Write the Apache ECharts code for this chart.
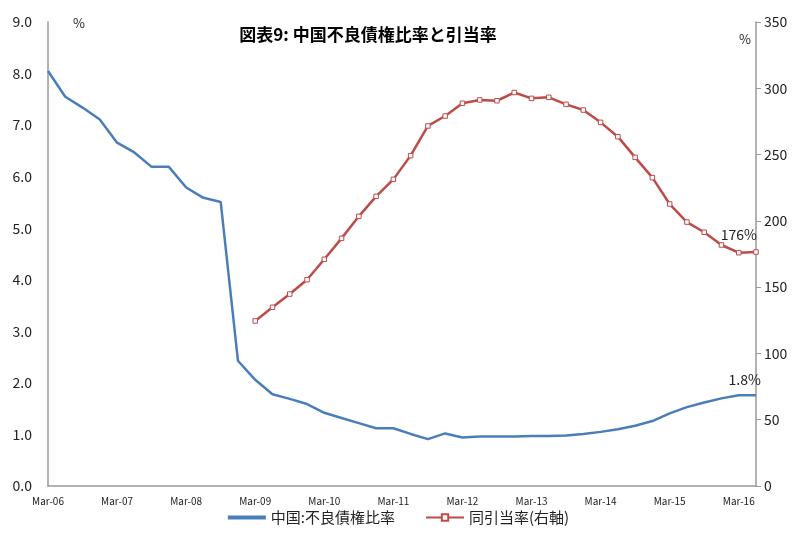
<!DOCTYPE html>
<html>
<head>
<meta charset="utf-8">
<script src="https://cdn.jsdelivr.net/npm/echarts@6/dist/echarts.min.js"></script>
<style>
  html, body { margin: 0; padding: 0; background: #fff; }
  #chart { width: 797px; height: 533px; }
</style>
</head>
<body>
<div id="chart"></div>
<script>
// quarterly periods Mar-06 .. Jun-16
var quarters = [
  'Mar-06', 'Jun-06', 'Sep-06', 'Dec-06',
  'Mar-07', 'Jun-07', 'Sep-07', 'Dec-07',
  'Mar-08', 'Jun-08', 'Sep-08', 'Dec-08',
  'Mar-09', 'Jun-09', 'Sep-09', 'Dec-09',
  'Mar-10', 'Jun-10', 'Sep-10', 'Dec-10',
  'Mar-11', 'Jun-11', 'Sep-11', 'Dec-11',
  'Mar-12', 'Jun-12', 'Sep-12', 'Dec-12',
  'Mar-13', 'Jun-13', 'Sep-13', 'Dec-13',
  'Mar-14', 'Jun-14', 'Sep-14', 'Dec-14',
  'Mar-15', 'Jun-15', 'Sep-15', 'Dec-15',
  'Mar-16', 'Jun-16'
];

// 中国:不良債権比率 (%), left axis
var nplRatio = [
  8.05, 7.55, 7.34, 7.11, 6.66, 6.47, 6.19, 6.19, 5.79, 5.59, 5.51, 2.43,
  2.06, 1.78, 1.69, 1.59, 1.42, 1.32, 1.22, 1.12, 1.12, 1.01, 0.91, 1.02,
  0.94, 0.96, 0.96, 0.96, 0.97, 0.97, 0.98, 1.01, 1.05, 1.10, 1.17, 1.26,
  1.41, 1.53, 1.62, 1.70, 1.76, 1.76
];

// 同引当率 (%), right axis - starts Mar-09
var coverage = [
  null, null, null, null, null, null, null, null, null, null, null, null,
  124.5, 134.8, 144.8, 155.6, 171.0, 186.8, 203.4, 218.5, 231.3, 249.2, 271.6, 279.1,
  288.7, 291.2, 290.6, 296.8, 292.4, 293.2, 287.9, 283.6, 274.3, 263.5, 247.9, 232.6,
  212.7, 199.1, 191.4, 181.8, 176.0, 176.5
];

var leftTicks = [0, 9, 1];
var rightTicks = [0, 350, 50];
var labelIdx = 40;

var font = '"Noto Sans CJK JP", "Open Sans", sans-serif';

var chart = echarts.init(document.getElementById('chart'), null, { renderer: 'canvas' });

var nplData = nplRatio.map(function (v, i) {
  if (i === labelIdx) {
    return { value: v, label: { show: true, position: 'top', distance: 9, offset: [6, 0], formatter: '1.8%', color: '#222', fontSize: 14, fontFamily: font } };
  }
  return v;
});
var covData = coverage.map(function (v, i) {
  if (i === labelIdx) {
    return { value: v, label: { show: true, position: 'top', distance: 8, formatter: '176%', color: '#222', fontSize: 14, fontFamily: font } };
  }
  return v;
});

var option = {
  animation: false,
  title: {
    text: '図表9: 中国不良債権比率と引当率',
    left: 363,
    textAlign: 'center',
    top: 21,
    textStyle: { fontSize: 17, fontWeight: 'bold', color: '#000', fontFamily: font }
  },
  legend: {
    bottom: 3,
    left: 'center',
    itemWidth: 38,
    itemHeight: 8,
    itemGap: 30,
    textStyle: { fontSize: 15, color: '#222', fontFamily: font },
    data: [
      { name: '中国:不良債権比率', icon: 'path://M0,0 L10,0 L10,1 L0,1 Z' },
      { name: '同引当率(右軸)' }
    ]
  },
  grid: { left: 48, right: 41, top: 22, bottom: 47 },
  xAxis: {
    type: 'category',
    data: quarters,
    boundaryGap: false,
    axisLine: { lineStyle: { color: '#999', width: 1.5 } },
    axisTick: { show: false },
    axisLabel: { interval: 3, fontSize: 10, color: '#222', margin: 10, fontFamily: font }
  },
  yAxis: [
    {
      type: 'value',
      min: leftTicks[0], max: leftTicks[1], interval: leftTicks[2],
      name: '%',
      nameLocation: 'end',
      nameGap: -8,
      nameTextStyle: { fontSize: 13, color: '#222', align: 'left', padding: [0, 0, 0, 25], fontFamily: font },
      axisLine: { show: true, lineStyle: { color: '#999', width: 1.5 } },
      axisTick: { show: false },
      splitLine: { show: false },
      axisLabel: { fontSize: 14, color: '#222', margin: 16, fontFamily: font, formatter: function (v) { return v.toFixed(1); } }
    },
    {
      type: 'value',
      min: rightTicks[0], max: rightTicks[1], interval: rightTicks[2],
      position: 'right',
      name: '%',
      nameLocation: 'end',
      nameGap: -24,
      nameTextStyle: { fontSize: 13, color: '#222', align: 'right', padding: [0, 5, 0, 0], fontFamily: font },
      axisLine: { show: true, lineStyle: { color: '#999', width: 1.5 } },
      axisTick: { show: true, length: 5, lineStyle: { color: '#999' } },
      splitLine: { show: false },
      axisLabel: { fontSize: 14, color: '#222', margin: 8, fontFamily: font }
    }
  ],
  series: [
    {
      name: '中国:不良債権比率',
      type: 'line',
      yAxisIndex: 0,
      data: nplData,
      symbol: 'circle',
      symbolSize: 0,
      showSymbol: true,
      showAllSymbol: true,
      lineStyle: { color: '#4A7EBB', width: 2.5 },
      itemStyle: { color: '#4A7EBB' }
    },
    {
      name: '同引当率(右軸)',
      type: 'line',
      yAxisIndex: 1,
      data: covData,
      symbol: 'rect',
      symbolSize: 4.5,
      showSymbol: true,
      lineStyle: { color: '#BE4B48', width: 2.5 },
      itemStyle: { color: '#fff', borderColor: '#BE4B48', borderWidth: 1 }
    }
  ]
};

chart.setOption(option);
</script>
</body>
</html>
